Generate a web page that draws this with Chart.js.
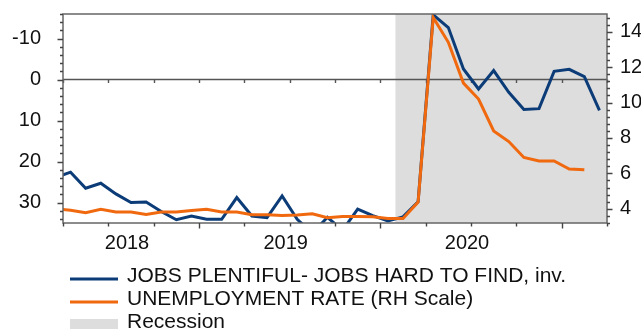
<!DOCTYPE html>
<html>
<head>
<meta charset="utf-8">
<script src="https://cdn.jsdelivr.net/npm/chart.js@4.4.1/dist/chart.umd.min.js"></script>
<style>
  html, body { margin: 0; padding: 0; background: #ffffff; overflow: hidden; }
  canvas { display: block; }
</style>
</head>
<body>
<canvas id="chart" width="641" height="329"></canvas>
<script>
// Monthly observations, Mar 2018 - Mar 2021
const months = [
  '2018-03','2018-04','2018-05','2018-06','2018-07','2018-08','2018-09','2018-10','2018-11','2018-12',
  '2019-01','2019-02','2019-03','2019-04','2019-05','2019-06','2019-07','2019-08','2019-09','2019-10','2019-11','2019-12',
  '2020-01','2020-02','2020-03','2020-04','2020-05','2020-06','2020-07','2020-08','2020-09','2020-10','2020-11','2020-12',
  '2021-01','2021-02','2021-03'
];

// Jobs plentiful minus jobs hard to find (plotted inverted, left scale)
const jobsDiffInv = [
  23.9, 22.6, 26.5, 25.3, 27.9, 30.0, 29.9, 32.2, 34.2, 33.3,
  34.1, 34.1, 28.8, 33.3, 33.7, 28.4, 34.1, 37.5, 33.6, 36.8, 31.6, 33.2,
  34.5, 33.5, 29.8, -15.8, -12.7, -2.6, 2.3, -2.2, 3.1, 7.3, 7.1, -2.0,
  -2.5, -0.7, 7.5
];

// Unemployment rate, % (right scale)
const unemploymentRate = [
  4.0, 3.92, 3.78, 3.97, 3.82, 3.82, 3.68, 3.82, 3.82, 3.9,
  3.97, 3.82, 3.82, 3.67, 3.67, 3.62, 3.65, 3.72, 3.5, 3.57, 3.57, 3.55,
  3.45, 3.45, 4.38, 14.8, 13.4, 11.1, 10.2, 8.4, 7.8, 6.9, 6.7, 6.7,
  6.25, 6.2, null
];

const recessionStart = '2020-02';
const axisStart = '2018-04';
const axisEnd = '2021-04';

const leftTicks = [-10, 0, 10, 20, 30];
const rightTicks = [4, 6, 8, 10, 12, 14];
const yearLabels = ['2018', '2019', '2020'];

const seriesNames = [
  'JOBS PLENTIFUL- JOBS HARD TO FIND, inv.',
  'UNEMPLOYMENT RATE (RH Scale)',
  'Recession'
];

// ---- helpers ----
const BASE_YEAR = 2018;
const monthPos = s => { const [y, m] = s.split('-').map(Number); return (y - BASE_YEAR) * 12 + (m - 1); };
const X_MIN = monthPos(axisStart);
const X_MAX = monthPos(axisEnd);

// each observation sits in the middle of its month
const toPoints = values => months.map((m, i) => ({ x: monthPos(m) + 0.5, y: values[i] }));

// year labels centred over the visible part of each year
const yearCentres = yearLabels.map(y => {
  const a = Math.max(monthPos(y + '-01'), X_MIN);
  const b = Math.min(monthPos((+y + 1) + '-01'), X_MAX);
  return (a + b) / 2;
});

const BLUE = '#0b3c78';
const ORANGE = '#f0690f';
const SHADE = '#dddddd';
const FRAME = '#666666';
const TEXT = '#111111';
const FONT = "'Liberation Sans', Arial, Helvetica, sans-serif";

function fixSize(prop, size) {
  return scale => {
    scale[prop] = size;
    scale.paddingLeft = scale.paddingRight = scale.paddingTop = scale.paddingBottom = 0;
  };
}

function tickRange(lo, hi, step) {
  const out = [];
  for (let v = lo; v <= hi + 1e-9; v += step) out.push(Math.round(v * 100) / 100);
  return out;
}

const decorations = {
  id: 'decorations',
  beforeDatasetsDraw(chart) {
    const { ctx, chartArea: a, scales: { x, y } } = chart;
    ctx.save();
    // recession band
    const xr = x.getPixelForValue(monthPos(recessionStart));
    ctx.fillStyle = SHADE;
    ctx.fillRect(xr, a.top, a.right - xr, a.bottom - a.top);
    // zero line of the left scale, with quarter ticks
    const y0 = y.getPixelForValue(0);
    ctx.strokeStyle = '#555555';
    ctx.lineWidth = 1.6;
    ctx.beginPath();
    ctx.moveTo(a.left, y0); ctx.lineTo(a.right, y0);
    ctx.stroke();
    ctx.lineWidth = 1.4;
    ctx.beginPath();
    for (let q = X_MIN; q <= X_MAX; q += 3) {
      const px = Math.round(x.getPixelForValue(q)) + 0.5;
      ctx.moveTo(px, y0); ctx.lineTo(px, y0 + 3.5);
    }
    ctx.stroke();
    ctx.restore();
  },
  afterDatasetsDraw(chart) {
    const { ctx, chartArea: a, scales: { x, y, y2 } } = chart;
    ctx.save();
    ctx.strokeStyle = FRAME;
    ctx.lineWidth = 1.5;
    ctx.strokeRect(a.left, a.top, a.right - a.left, a.bottom - a.top);

    ctx.strokeStyle = '#444444';
    ctx.lineWidth = 1.4;
    ctx.beginPath();
    // left scale ticks (every 2, long at multiples of 10)
    tickRange(-16, 34, 2).forEach(v => {
      const py = Math.round(y.getPixelForValue(v)) + 0.5;
      const len = v % 10 === 0 ? 5.5 : 3;
      ctx.moveTo(a.left, py); ctx.lineTo(a.left - len, py);
    });
    // right scale ticks (every 0.4, long at labelled values)
    tickRange(3.2, 15, 0.4).forEach(v => {
      const py = Math.round(y2.getPixelForValue(v)) + 0.5;
      const major = Math.abs(v / 2 - Math.round(v / 2)) < 1e-6;
      ctx.moveTo(a.right, py); ctx.lineTo(a.right + (major ? 5.5 : 3), py);
    });
    // quarter ticks on the time axis, longer at year starts
    for (let q = X_MIN; q <= X_MAX; q += 3) {
      const px = Math.round(x.getPixelForValue(q)) + 0.5;
      ctx.moveTo(px, a.bottom); ctx.lineTo(px, a.bottom + (q % 12 === 0 ? 5.5 : 3.5));
    }
    ctx.stroke();
    ctx.restore();
  },
  afterDraw(chart) {
    // legend: three rows, sample mark then text
    const { ctx } = chart;
    const items = [
      { text: chart.data.datasets[0].label, type: 'line', color: BLUE },
      { text: chart.data.datasets[1].label, type: 'line', color: ORANGE },
      { text: seriesNames[2], type: 'box', color: SHADE }
    ];
    const left = 70, sampleW = 48, gap = 9, firstRow = 279, rowH = 23;
    ctx.save();
    ctx.font = '21px ' + FONT;
    ctx.fillStyle = TEXT;
    ctx.textBaseline = 'alphabetic';
    ctx.textAlign = 'left';
    items.forEach((it, i) => {
      const cy = firstRow + i * rowH;
      if (it.type === 'line') {
        ctx.strokeStyle = it.color;
        ctx.lineWidth = 3;
        ctx.beginPath();
        ctx.moveTo(left, cy); ctx.lineTo(left + sampleW, cy);
        ctx.stroke();
      } else {
        ctx.fillStyle = it.color;
        ctx.fillRect(left, cy - 6, sampleW, 12);
      }
      ctx.fillStyle = TEXT;
      ctx.fillText(it.text, left + sampleW + gap, cy + 3);
    });
    ctx.restore();
  }
};

new Chart(document.getElementById('chart'), {
  type: 'line',
  data: {
    datasets: [
      {
        label: seriesNames[0],
        data: toPoints(jobsDiffInv),
        yAxisID: 'y',
        borderColor: BLUE,
        borderWidth: 3,
        pointRadius: 0,
        tension: 0,
        order: 2
      },
      {
        label: seriesNames[1],
        data: toPoints(unemploymentRate),
        yAxisID: 'y2',
        borderColor: ORANGE,
        borderWidth: 3,
        pointRadius: 0,
        tension: 0,
        spanGaps: false,
        order: 1
      }
    ]
  },
  options: {
    responsive: false,
    animation: false,
    devicePixelRatio: 1,
    layout: { padding: { top: 14, left: 0, right: 0, bottom: 0 } },
    plugins: { legend: { display: false }, tooltip: { enabled: false } },
    scales: {
      x: {
        type: 'linear',
        min: X_MIN,
        max: X_MAX,
        grid: { display: false, drawTicks: false },
        border: { display: false },
        afterBuildTicks: s => { s.ticks = yearCentres.map(v => ({ value: v })); },
        afterFit: fixSize('height', 106),
        ticks: {
          autoSkip: false,
          maxRotation: 0,
          padding: 8,
          labelOffset: -4,
          color: TEXT,
          font: { family: FONT, size: 20 },
          callback: (v, i) => yearLabels[i]
        }
      },
      y: {
        type: 'linear',
        position: 'left',
        reverse: true,
        min: -16,
        max: 35,
        grid: { display: false, drawTicks: false },
        border: { display: false },
        afterBuildTicks: s => { s.ticks = leftTicks.map(v => ({ value: v })); },
        afterFit: fixSize('width', 63),
        ticks: {
          padding: 22,
          color: TEXT,
          font: { family: FONT, size: 20 },
          callback: v => String(v)
        }
      },
      y2: {
        type: 'linear',
        position: 'right',
        min: 3.2,
        max: 15,
        grid: { display: false, drawTicks: false },
        border: { display: false },
        afterBuildTicks: s => { s.ticks = rightTicks.map(v => ({ value: v })); },
        afterFit: fixSize('width', 34),
        ticks: {
          padding: 13,
          color: TEXT,
          font: { family: FONT, size: 20 },
          callback: v => String(v)
        }
      }
    }
  },
  plugins: [decorations]
});
</script>
</body>
</html>
